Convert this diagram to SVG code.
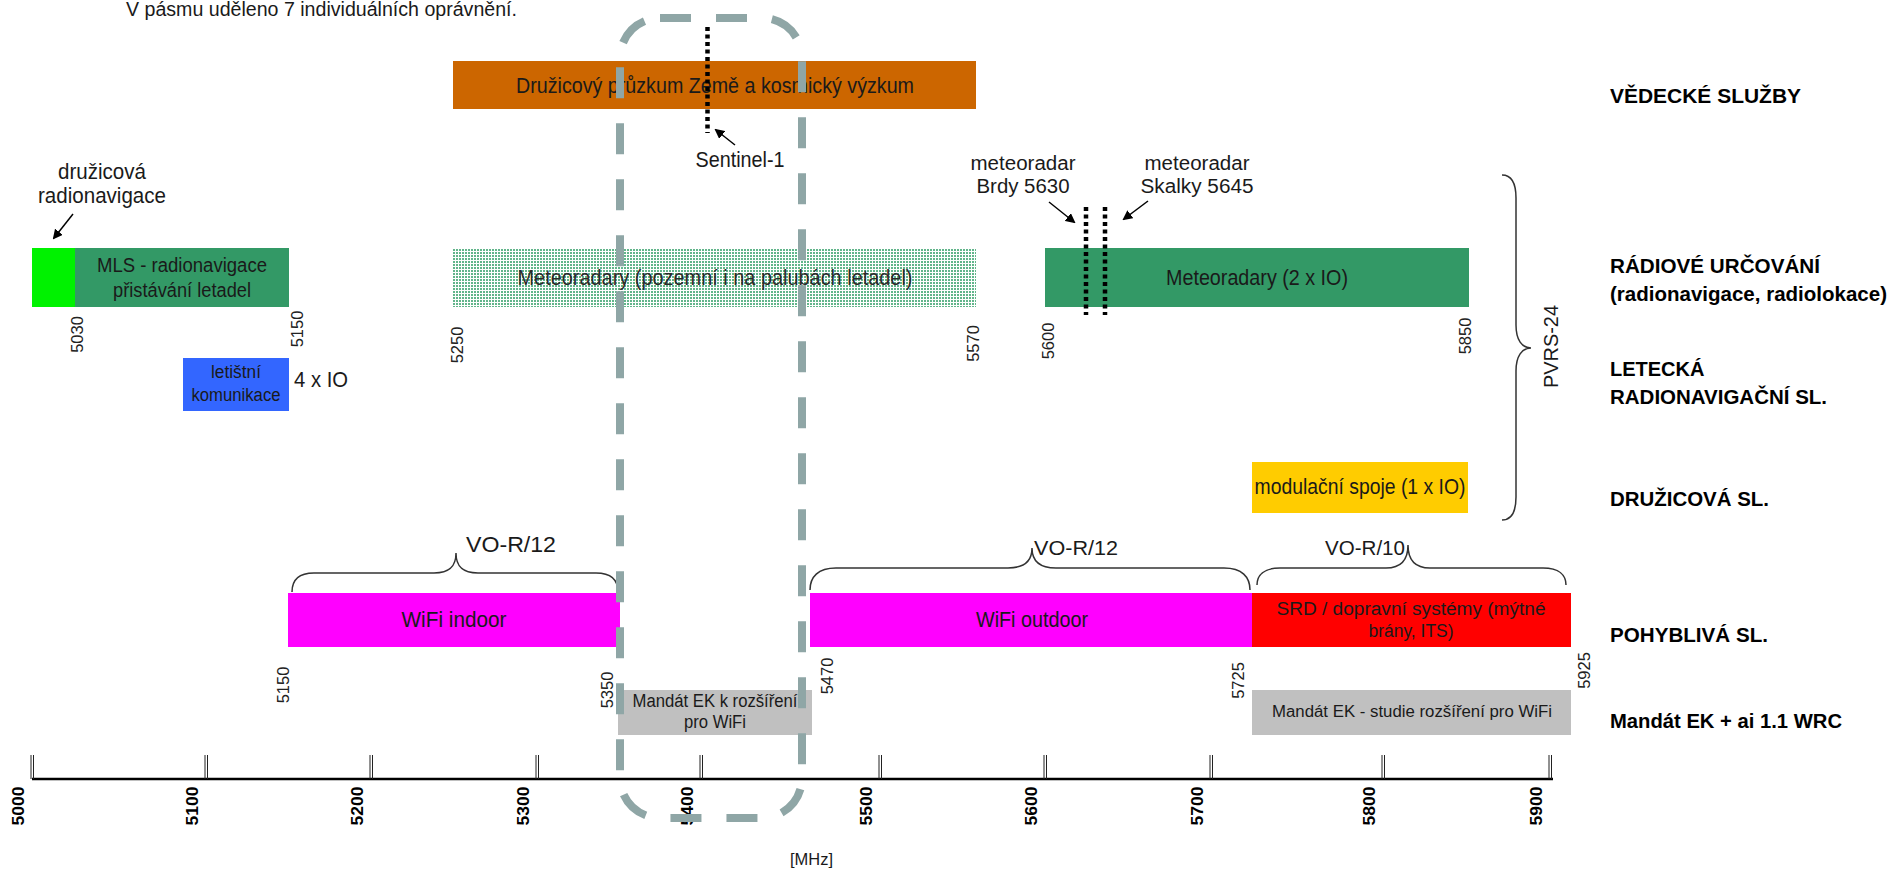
<svg xmlns="http://www.w3.org/2000/svg" width="1893" height="869" viewBox="0 0 1893 869">
<style>
text{font-family:"Liberation Sans",Arial,sans-serif;fill:#1a1a1a}
.t22{font-size:22px}
.t20{font-size:20px}
.t18{font-size:18px}
.t16{font-size:16px}
.lab{font-size:20px;font-weight:bold;fill:#000}
.rl{font-size:16.5px;fill:#222}
.ax{font-size:17px;font-weight:bold;fill:#000}
.mid{text-anchor:middle}
.dot{stroke:#000;stroke-width:4.5;stroke-dasharray:4 3.5;fill:none}
.arr{stroke:#000;stroke-width:1.5;fill:none;marker-end:url(#ah)}
.brace{stroke:#333;stroke-width:1.5;fill:none}
.tick{stroke:#222;stroke-width:1}
</style>
<defs>
<marker id="ah" markerWidth="10" markerHeight="10" refX="8" refY="5" orient="auto" markerUnits="userSpaceOnUse">
<path d="M0,0 L10,5 L0,10 z" fill="#000"/>
</marker>
<pattern id="dots" width="3" height="3" patternUnits="userSpaceOnUse">
<rect width="3" height="3" fill="#ffffff"/>
<rect width="2" height="2" fill="#62b58b"/>
</pattern>
</defs>
<rect width="1893" height="869" fill="#ffffff"/>

<text class="t20" x="126" y="16" textLength="391" lengthAdjust="spacingAndGlyphs">V pásmu uděleno 7 individuálních oprávnění.</text>

<g id="eess">
<rect x="453" y="61" width="523" height="48" fill="#CC6600"/>
<text class="t22 mid" x="715" y="93" textLength="398" lengthAdjust="spacingAndGlyphs">Družicový průzkum Země a kosmický výzkum</text>
</g>

<g id="meteo-ground">
<rect x="453" y="248" width="523" height="59" fill="url(#dots)"/>
<text class="t22 mid" x="715" y="285" textLength="395" lengthAdjust="spacingAndGlyphs" style="fill:#2a2a2a">Meteoradary (pozemní i na palubách letadel)</text>
</g>

<g id="sat-radionav">
<rect x="32" y="248" width="43" height="59" fill="#00F200"/>
<text class="t22 mid" x="102" y="179" textLength="88" lengthAdjust="spacingAndGlyphs">družicová</text>
<text class="t22 mid" x="102" y="203" textLength="128" lengthAdjust="spacingAndGlyphs">radionavigace</text>
</g>

<g id="mls">
<rect x="75" y="248" width="214" height="59" fill="#339966"/>
<text class="t20 mid" x="182" y="272" textLength="170" lengthAdjust="spacingAndGlyphs">MLS - radionavigace</text>
<text class="t20 mid" x="182" y="297" textLength="138" lengthAdjust="spacingAndGlyphs">přistávání letadel</text>
</g>

<g id="airport">
<rect x="183" y="358" width="106" height="53" fill="#3366FF"/>
<text class="t18 mid" x="236" y="378" textLength="50" lengthAdjust="spacingAndGlyphs">letištní</text>
<text class="t18 mid" x="236" y="401" textLength="89" lengthAdjust="spacingAndGlyphs">komunikace</text>
<text class="t22" x="294" y="387" textLength="54" lengthAdjust="spacingAndGlyphs">4 x IO</text>
</g>

<g id="meteo-io">
<rect x="1045" y="248" width="424" height="59" fill="#339966"/>
<text class="t22 mid" x="1257" y="285" textLength="182" lengthAdjust="spacingAndGlyphs">Meteoradary (2 x IO)</text>
</g>

<g id="feeder">
<rect x="1252" y="462" width="216" height="51" fill="#FFCC00"/>
<text class="t22 mid" x="1360" y="494" textLength="211" lengthAdjust="spacingAndGlyphs">modulační spoje (1 x IO)</text>
</g>

<g id="wifi-indoor">
<rect x="288" y="593" width="332" height="54" fill="#FF00FF"/>
<text class="t22 mid" x="454" y="627" textLength="105" lengthAdjust="spacingAndGlyphs">WiFi indoor</text>
</g>

<g id="wifi-outdoor">
<rect x="810" y="593" width="442" height="54" fill="#FF00FF"/>
<text class="t22 mid" x="1032" y="627" textLength="112" lengthAdjust="spacingAndGlyphs">WiFi outdoor</text>
</g>

<g id="srd">
<rect x="1252" y="593" width="319" height="54" fill="#FF0000"/>
<text class="t18 mid" x="1411" y="615" textLength="269" lengthAdjust="spacingAndGlyphs">SRD / dopravní systémy (mýtné</text>
<text class="t18 mid" x="1411" y="637" textLength="85" lengthAdjust="spacingAndGlyphs">brány, ITS)</text>
</g>

<g id="mandate-1">
<rect x="618" y="690" width="194" height="45" fill="#C0C0C0"/>
<text class="t18 mid" x="715" y="707" textLength="165" lengthAdjust="spacingAndGlyphs">Mandát EK k rozšíření</text>
<text class="t18 mid" x="715" y="728" textLength="62" lengthAdjust="spacingAndGlyphs">pro WiFi</text>
</g>

<g id="mandate-2">
<rect x="1252" y="690" width="319" height="45" fill="#C0C0C0"/>
<text class="t16 mid" x="1412" y="717" textLength="280" lengthAdjust="spacingAndGlyphs">Mandát EK - studie rozšíření pro WiFi</text>
</g>

<g id="labels-sentinel">
<text class="t22 mid" x="740" y="167" textLength="89" lengthAdjust="spacingAndGlyphs">Sentinel-1</text>
</g>
<g id="labels-brdy">
<text class="t20 mid" x="1023" y="170" textLength="105" lengthAdjust="spacingAndGlyphs">meteoradar</text>
<text class="t20 mid" x="1023" y="193" textLength="93" lengthAdjust="spacingAndGlyphs">Brdy 5630</text>
</g>
<g id="labels-skalky">
<text class="t20 mid" x="1197" y="170" textLength="105" lengthAdjust="spacingAndGlyphs">meteoradar</text>
<text class="t20 mid" x="1197" y="193" textLength="113" lengthAdjust="spacingAndGlyphs">Skalky 5645</text>
</g>

<g id="freq-labels">
<text class="rl mid" transform="translate(83,334.5) rotate(-90)">5030</text>
<text class="rl mid" transform="translate(303,329) rotate(-90)">5150</text>
<text class="rl mid" transform="translate(463,345) rotate(-90)">5250</text>
<text class="rl mid" transform="translate(979,343.5) rotate(-90)">5570</text>
<text class="rl mid" transform="translate(1054,341) rotate(-90)">5600</text>
<text class="rl mid" transform="translate(1471,336) rotate(-90)">5850</text>
<text class="rl mid" transform="translate(289,685) rotate(-90)">5150</text>
<text class="rl mid" transform="translate(613,690) rotate(-90)">5350</text>
<text class="rl mid" transform="translate(833,676) rotate(-90)">5470</text>
<text class="rl mid" transform="translate(1244,680.5) rotate(-90)">5725</text>
<text class="rl mid" transform="translate(1590,670.5) rotate(-90)">5925</text>
</g>

<g id="services">
<text class="lab" x="1610" y="103" textLength="191" lengthAdjust="spacingAndGlyphs">VĚDECKÉ SLUŽBY</text>
<text class="lab" x="1610" y="273" textLength="210" lengthAdjust="spacingAndGlyphs">RÁDIOVÉ URČOVÁNÍ</text>
<text class="lab" x="1610" y="301" textLength="277" lengthAdjust="spacingAndGlyphs">(radionavigace, radiolokace)</text>
<text class="lab" x="1610" y="376">LETECKÁ</text>
<text class="lab" x="1610" y="404" textLength="217" lengthAdjust="spacingAndGlyphs">RADIONAVIGAČNÍ SL.</text>
<text class="lab" x="1610" y="506" textLength="159" lengthAdjust="spacingAndGlyphs">DRUŽICOVÁ SL.</text>
<text class="lab" x="1610" y="642" textLength="158" lengthAdjust="spacingAndGlyphs">POHYBLIVÁ SL.</text>
<text class="lab" x="1610" y="728" textLength="232" lengthAdjust="spacingAndGlyphs">Mandát EK + ai 1.1 WRC</text>
</g>

<g id="brace-labels">
<text class="t22" x="466" y="552" textLength="90" lengthAdjust="spacingAndGlyphs">VO-R/12</text>
<text class="t20" x="1034" y="555" textLength="84" lengthAdjust="spacingAndGlyphs">VO-R/12</text>
<text class="t20" x="1325" y="555" textLength="80" lengthAdjust="spacingAndGlyphs">VO-R/10</text>
<text class="t20 mid" transform="translate(1558,346.5) rotate(-90)" textLength="83" lengthAdjust="spacingAndGlyphs">PVRS-24</text>
</g>

<g id="axis">
<line x1="32" y1="779" x2="1553" y2="779" stroke="#000" stroke-width="2.6"/>
<g class="tick">
<line x1="31" y1="755" x2="31" y2="779"/><line x1="33.5" y1="755" x2="33.5" y2="779"/>
<line x1="205" y1="755" x2="205" y2="779"/><line x1="207.5" y1="755" x2="207.5" y2="779"/>
<line x1="370" y1="755" x2="370" y2="779"/><line x1="372.5" y1="755" x2="372.5" y2="779"/>
<line x1="536" y1="755" x2="536" y2="779"/><line x1="538.5" y1="755" x2="538.5" y2="779"/>
<line x1="700" y1="755" x2="700" y2="779"/><line x1="702.5" y1="755" x2="702.5" y2="779"/>
<line x1="879" y1="755" x2="879" y2="779"/><line x1="881.5" y1="755" x2="881.5" y2="779"/>
<line x1="1044" y1="755" x2="1044" y2="779"/><line x1="1046.5" y1="755" x2="1046.5" y2="779"/>
<line x1="1210" y1="755" x2="1210" y2="779"/><line x1="1212.5" y1="755" x2="1212.5" y2="779"/>
<line x1="1382" y1="755" x2="1382" y2="779"/><line x1="1384.5" y1="755" x2="1384.5" y2="779"/>
<line x1="1549" y1="755" x2="1549" y2="779"/><line x1="1551.5" y1="755" x2="1551.5" y2="779"/>
</g>
<text class="ax mid" transform="translate(24,806) rotate(-90)" textLength="39" lengthAdjust="spacingAndGlyphs">5000</text>
<text class="ax mid" transform="translate(198,806) rotate(-90)" textLength="39" lengthAdjust="spacingAndGlyphs">5100</text>
<text class="ax mid" transform="translate(363,806) rotate(-90)" textLength="39" lengthAdjust="spacingAndGlyphs">5200</text>
<text class="ax mid" transform="translate(529,806) rotate(-90)" textLength="39" lengthAdjust="spacingAndGlyphs">5300</text>
<text class="ax mid" transform="translate(693,806) rotate(-90)" textLength="39" lengthAdjust="spacingAndGlyphs">5400</text>
<text class="ax mid" transform="translate(872,806) rotate(-90)" textLength="39" lengthAdjust="spacingAndGlyphs">5500</text>
<text class="ax mid" transform="translate(1037,806) rotate(-90)" textLength="39" lengthAdjust="spacingAndGlyphs">5600</text>
<text class="ax mid" transform="translate(1203,806) rotate(-90)" textLength="39" lengthAdjust="spacingAndGlyphs">5700</text>
<text class="ax mid" transform="translate(1375,806) rotate(-90)" textLength="39" lengthAdjust="spacingAndGlyphs">5800</text>
<text class="ax mid" transform="translate(1542,806) rotate(-90)" textLength="39" lengthAdjust="spacingAndGlyphs">5900</text>
<text class="t16" x="790" y="865" textLength="43" lengthAdjust="spacingAndGlyphs">[MHz]</text>
</g>

<g id="connectors">
<line class="dot" x1="707.5" y1="27" x2="707.5" y2="133"/>
<line class="dot" x1="1086" y1="207" x2="1086" y2="315"/>
<line class="dot" x1="1105" y1="207" x2="1105" y2="315"/>
<line class="arr" x1="73" y1="214" x2="54" y2="238"/>
<line class="arr" x1="735" y1="145" x2="716" y2="130"/>
<line class="arr" x1="1049" y1="202" x2="1074" y2="222"/>
<line class="arr" x1="1148" y1="201" x2="1124" y2="219"/>
<path class="brace" d="M292,592 C292,580 298,573 314,573 L434,573 C450,573 456,566 456,553 C456,566 462,573 478,573 L596,573 C612,573 618,580 618,592"/>
<path class="brace" d="M810,590 C810,577 818,568 836,568 L1008,568 C1025,568 1032,561 1032,548 C1032,561 1039,568 1056,568 L1224,568 C1242,568 1250,577 1250,590"/>
<path class="brace" d="M1257,585 C1257,575 1264,568 1280,568 L1386,568 C1401,568 1408,560 1408,545 C1408,560 1415,568 1430,568 L1543,568 C1559,568 1566,575 1566,585"/>
<path class="brace" d="M1502,175 C1512,175 1516,183 1516,198 L1516,325 C1516,340 1522,348 1531,348 C1522,348 1516,356 1516,371 L1516,497 C1516,512 1512,520 1502,520"/>
</g>

<g id="highlight">
<rect x="620" y="18" width="182" height="800" rx="40" ry="40" fill="none" stroke="#8FA6A6" stroke-width="8" stroke-dasharray="31 25"/>
</g>
</svg>
